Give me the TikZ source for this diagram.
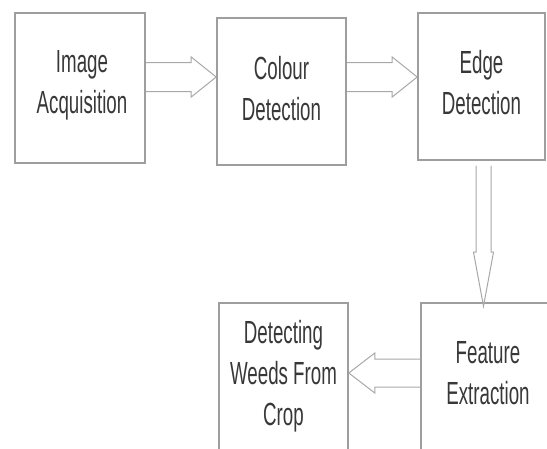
\documentclass[tikz,border=0pt]{standalone}
\usepackage{fontspec}
\setmainfont{Liberation Sans}
\usetikzlibrary{calc}
\definecolor{boxline}{HTML}{9E9E9E}
\definecolor{arrline}{HTML}{A8A8A8}
\definecolor{txtc}{HTML}{383838}
\newcommand{\btext}[1]{\scalebox{0.585}[1]{\begin{tabular}{@{}c@{}}#1\end{tabular}}}
\begin{document}
\begin{tikzpicture}[x=1pt,y=-1pt,
  box/.style={draw=boxline,line width=1.6pt,minimum width=#1,inner sep=0pt,fill=white},
  txt/.style={text=txtc,inner sep=0pt,font=\fontsize{32}{41}\selectfont},
  barrow/.style={draw=arrline,line width=1pt,line join=miter}]
\fill[white] (0,0) rectangle (547,448);
\useasboundingbox (0,0) rectangle (547,448);
% boxes
\node[box=130pt,minimum height=150pt] (b1) at (80,88) {};
\node[box=129pt,minimum height=147pt] (b2) at (281.5,91.5) {};
\node[box=127pt,minimum height=147pt] (b3) at (481.5,86.5) {};
\node[box=139pt,minimum height=160pt] (b4) at (490.5,383) {};
\node[box=129pt,minimum height=160pt] (b5) at (283.5,383) {};
% texts
\node[txt] (t1) at ($(b1.center)+(2,-3)$) {\btext{Image\\Acquisition}};
\node[txt] (t2) at (b2.center) {\btext{Colour\\Detection}};
\node[txt] (t3) at ($(b3.center)+(0,-1)$) {\btext{Edge\\Detection}};
\node[txt] (t4) at (488,376) {\btext{Feature\\Extraction}};
\node[txt] (t5) at (283.5,376) {\btext{Detecting\\Weeds From\\Crop}};
% arrow 1
\path (b1.east |- 0,77) coordinate (a1s) (b2.west |- 0,77) coordinate (a1e);
\draw[barrow] let \p1=(a1s), \p2=(a1e) in
  (\x1,\y1+14.5pt) -- (\x2-25pt,\y1+14.5pt) -- (\x2-25pt,\y1+20pt) -- (\x2,\y2)
  -- (\x2-25pt,\y1-20pt) -- (\x2-25pt,\y1-14.5pt) -- (\x1,\y1-14.5pt);
% arrow 2
\path (b2.east |- 0,77) coordinate (a2s) (b3.west |- 0,77) coordinate (a2e);
\draw[barrow] let \p1=(a2s), \p2=(a2e) in
  (\x1,\y1+14.5pt) -- (\x2-25pt,\y1+14.5pt) -- (\x2-25pt,\y1+20pt) -- (\x2,\y2)
  -- (\x2-25pt,\y1-20pt) -- (\x2-25pt,\y1-14.5pt) -- (\x1,\y1-14.5pt);
% arrow 3 (down)
\path ($(b3.south)+(2,5)$) coordinate (a3s) (b4.north -| a3s) coordinate (a3e);
\draw[barrow] let \p1=(a3s), \p2=(a3e) in
  (\x1-7.5pt,\y1) -- (\x1-7.5pt,\y2+50pt) -- (\x1-10pt,\y2+50pt) -- (\x1,\y2-4pt)
  -- (\x1+10pt,\y2+50pt) -- (\x1+7.5pt,\y2+50pt) -- (\x1+7.5pt,\y1);
% arrow 4 (left)
\path (b4.west |- 0,373) coordinate (a4s) (b5.east |- 0,373) coordinate (a4e);
\draw[barrow] let \p1=(a4s), \p2=(a4e) in
  (\x1,\y1+14pt) -- (\x2+26pt,\y1+14pt) -- (\x2+26pt,\y1+20pt) -- (\x2,\y2)
  -- (\x2+26pt,\y1-20pt) -- (\x2+26pt,\y1-14pt) -- (\x1,\y1-14pt);
\end{tikzpicture}
\end{document}
